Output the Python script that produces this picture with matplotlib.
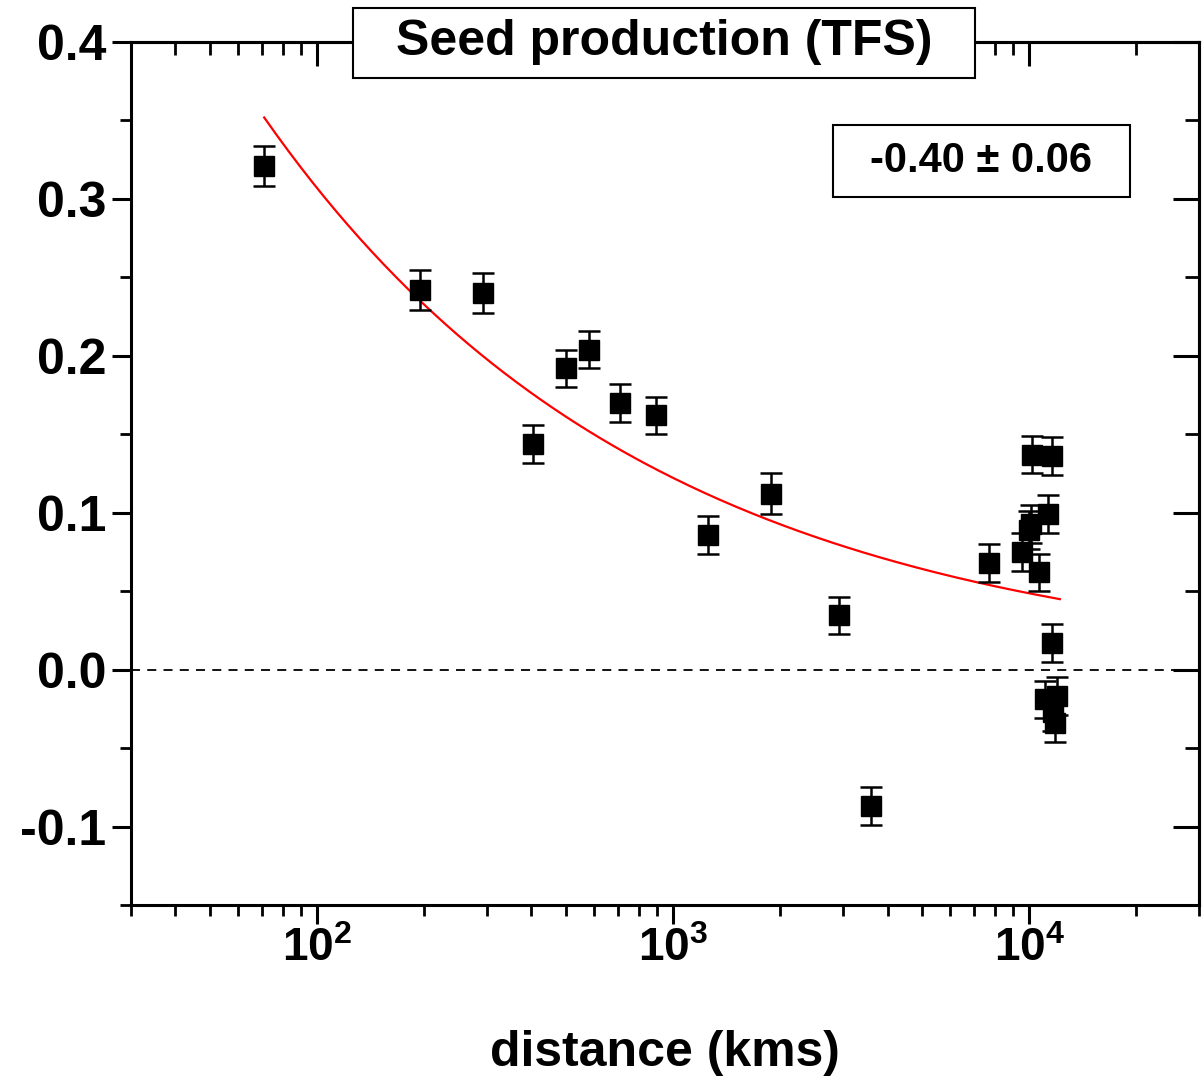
import numpy as np
import matplotlib.pyplot as plt
from matplotlib.patches import Rectangle
from matplotlib.ticker import LogLocator, MultipleLocator, NullFormatter, LogFormatterMathtext

fam = 'Liberation Sans'
plt.rcParams['font.family'] = [fam, 'DejaVu Sans']
plt.rcParams['font.weight'] = 'bold'
plt.rcParams['mathtext.fontset'] = 'custom'
plt.rcParams['mathtext.rm'] = fam + ':bold'
plt.rcParams['mathtext.default'] = 'rm'

# data
dist = [71, 194, 292, 404, 499, 582, 711, 897, 1253, 1880, 2925, 3600, 7730,
        10200, 11600, 11300, 10100, 10000, 9560, 10650, 11600, 11100, 12000, 11800, 11700]
value = [0.321, 0.242, 0.240, 0.144, 0.192, 0.204, 0.170, 0.162, 0.086, 0.112, 0.0345, -0.087, 0.068,
         0.137, 0.136, 0.099, 0.093, 0.089, 0.075, 0.062, 0.017, -0.019, -0.017, -0.034, -0.027]
err = [0.013, 0.013, 0.013, 0.012, 0.012, 0.012, 0.012, 0.012, 0.012, 0.013, 0.012, 0.012, 0.012,
       0.012, 0.012, 0.012, 0.012, 0.012, 0.012, 0.012, 0.012, 0.012, 0.012, 0.012, 0.012]

# power-law fit y = A * x**b
fit_A = 1.936
fit_b = -0.40
fit_range = [71, 12200]

fig = plt.figure(figsize=(12.03, 10.83), dpi=100)
ax = fig.add_axes([0.1089, 0.1644, 0.8878, 0.7968])

ax.errorbar(dist, value, yerr=err, fmt='s', color='black', ms=14,
            ecolor='black', elinewidth=1.8, capsize=8, capthick=1.8, zorder=3)

xf = np.logspace(np.log10(fit_range[0]), np.log10(fit_range[1]), 200)
ax.plot(xf, fit_A * xf ** fit_b, color='red', lw=1.6, zorder=2)

ax.axhline(0, color='black', lw=1.3, ls=(0, (5, 4)), zorder=1)

ax.set_xscale('log')
ax.set_xlim(30, 30000)
ax.set_ylim(-0.15, 0.4)

ax.yaxis.set_major_locator(MultipleLocator(0.1))
ax.yaxis.set_minor_locator(MultipleLocator(0.05))
ax.yaxis.set_major_formatter(plt.FuncFormatter(lambda v, p: '%.1f' % v))
ax.xaxis.set_major_locator(LogLocator(base=10, numticks=10))
ax.xaxis.set_minor_locator(LogLocator(base=10, subs=np.arange(2, 10), numticks=20))
ax.xaxis.set_minor_formatter(NullFormatter())
ax.xaxis.set_major_formatter(LogFormatterMathtext())

for s in ax.spines.values():
    s.set_linewidth(2.2)

ax.tick_params(axis='both', which='major', direction='out', length=14, width=2.2)
ax.tick_params(axis='both', which='minor', direction='out', length=8, width=2.0)
ax.tick_params(axis='y', which='major', labelsize=36, pad=4)
ax.tick_params(axis='x', which='major', labelsize=33, pad=2)

# mirrored axes with inward ticks
top = ax.secondary_xaxis('top')
top.set_xscale('log')
top.xaxis.set_major_locator(LogLocator(base=10, numticks=10))
top.xaxis.set_minor_locator(LogLocator(base=10, subs=np.arange(2, 10), numticks=20))
top.tick_params(which='major', direction='in', length=17, width=2.2, labeltop=False)
top.tick_params(which='minor', direction='in', length=9, width=2.0)
top.spines['top'].set_linewidth(2.2)
top.xaxis.set_major_formatter(NullFormatter())
top.xaxis.set_minor_formatter(NullFormatter())

right = ax.secondary_yaxis('right')
right.yaxis.set_major_locator(MultipleLocator(0.1))
right.yaxis.set_minor_locator(MultipleLocator(0.05))
right.tick_params(which='major', direction='in', length=19, width=2.2, labelright=False)
right.tick_params(which='minor', direction='in', length=10, width=2.0)
right.spines['right'].set_linewidth(2.2)

ax.set_xlabel('distance (kms)', fontsize=36, fontweight='bold', labelpad=42)

# title box
fig.patches.append(Rectangle((0.2934, 0.928), 0.5171, 0.0646, transform=fig.transFigure,
                             fc='white', ec='black', lw=1.5, zorder=5))
fig.text(0.552, 0.961, 'Seed production (TFS)', ha='center', va='center',
         fontsize=36, fontweight='bold', zorder=6)

# fit exponent box
fig.patches.append(Rectangle((0.6924, 0.8181), 0.2469, 0.0665, transform=fig.transFigure,
                             fc='white', ec='black', lw=1.5, zorder=5))
fig.text(0.8155, 0.8513, '-0.40 ± 0.06', ha='center', va='center',
         fontsize=30, fontweight='bold', zorder=6)

fig.savefig('out.png', dpi=100)
